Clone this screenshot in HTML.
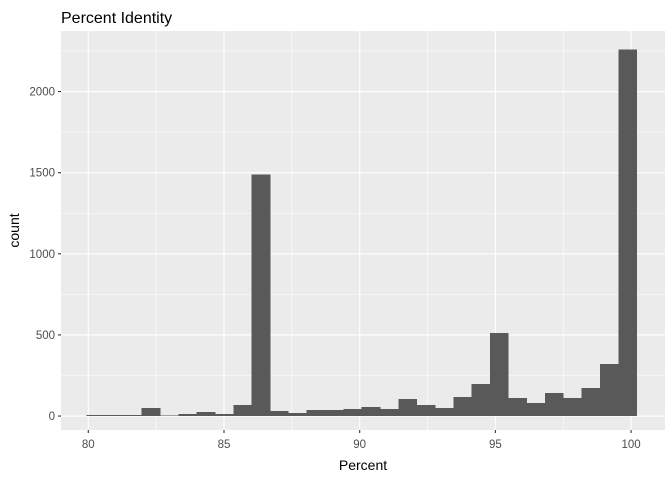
<!DOCTYPE html>
<html><head><meta charset="utf-8"><style>
body{margin:0;background:#fff;font-family:"Liberation Sans",sans-serif}
</style></head><body>
<svg id="c" width="672" height="480" xmlns="http://www.w3.org/2000/svg">
<text x="61" y="23" font-size="16" fill="#000">Percent Identity</text>
<g id="g"></g>
</svg>
<script>
const binStart = 79.94;
const binWidth = 0.6755;
const counts = [5,5,5,49,4,12,25,12,68,1490,31,18,37,37,43,55,43,105,68,49,117,197,511,111,80,142,111,172,320,2260];
const xTicks = [80,85,90,95,100];
const yTicks = [0,500,1000,1500,2000];

const svg = document.getElementById('g');
const NS = 'http://www.w3.org/2000/svg';
const pl = 61, pr = 665, pt = 31, pb = 430;
const xmin = 78.994, xmax = 101.25;
const ymax = 2373, ymin = -86;
const X = v => pl + (v - xmin) / (xmax - xmin) * (pr - pl);
const Y = v => pb - (v - ymin) / (ymax - ymin) * (pb - pt);
function el(t, a){const e=document.createElementNS(NS,t);for(const k in a)e.setAttribute(k,a[k]);svg.appendChild(e);return e;}

const bg = el('rect',{x:pl,y:pt,width:pr-pl,height:pb-pt,fill:'#ebebeb'});


const minorY=[250,750,1250,1750,2250];
minorY.forEach(v=>{
 const l=el('line',{x1:pl,x2:pr,y1:Y(v),y2:Y(v),stroke:'#fff','stroke-width':0.55});
 
 });
for(let i=0;i<xTicks.length-1;i++){const v=(xTicks[i]+xTicks[i+1])/2;
 const l=el('line',{y1:pt,y2:pb,x1:X(v),x2:X(v),stroke:'#fff','stroke-width':0.55});
 
 }
yTicks.forEach(v=>{
 const l=el('line',{x1:pl,x2:pr,y1:Y(v),y2:Y(v),stroke:'#fff','stroke-width':1.1});
 
 
 const tk=el('line',{x1:pl-3,x2:pl,y1:Y(v),y2:Y(v),stroke:'#333','stroke-width':1.1});
 
 
 const t=el('text',{x:pl-6,y:Y(v)+4,'text-anchor':'end','font-size':11.5,fill:'#4d4d4d'});
 t.textContent=v;
 
 
});
xTicks.forEach(v=>{
 const l=el('line',{y1:pt,y2:pb,x1:X(v),x2:X(v),stroke:'#fff','stroke-width':1.1});
 
 
 const tk=el('line',{y1:pb,y2:pb+3,x1:X(v),x2:X(v),stroke:'#333','stroke-width':1.1});
 
 
 const t=el('text',{x:X(v),y:pb+18,'text-anchor':'middle','font-size':11.5,fill:'#4d4d4d'});
 t.textContent=v;
 
 
});
counts.forEach((c,i)=>{
 const x0=X(binStart+i*binWidth), x1=X(binStart+(i+1)*binWidth);
 const r=el('rect',{x:x0,y:Y(c),width:x1-x0+0.4,height:Y(0)-Y(c),fill:'#595959','shape-rendering':'crispEdges'});
 
 
});
const xt=el('text',{x:(pl+pr)/2,y:470,'text-anchor':'middle','font-size':14,fill:'#000'});
xt.textContent='Percent';


const yt=el('text',{x:0,y:0,'text-anchor':'middle','font-size':14,fill:'#000',transform:'translate(19,'+((pt+pb)/2)+') rotate(-90)'});
yt.textContent='count';


</script>
</body></html>
